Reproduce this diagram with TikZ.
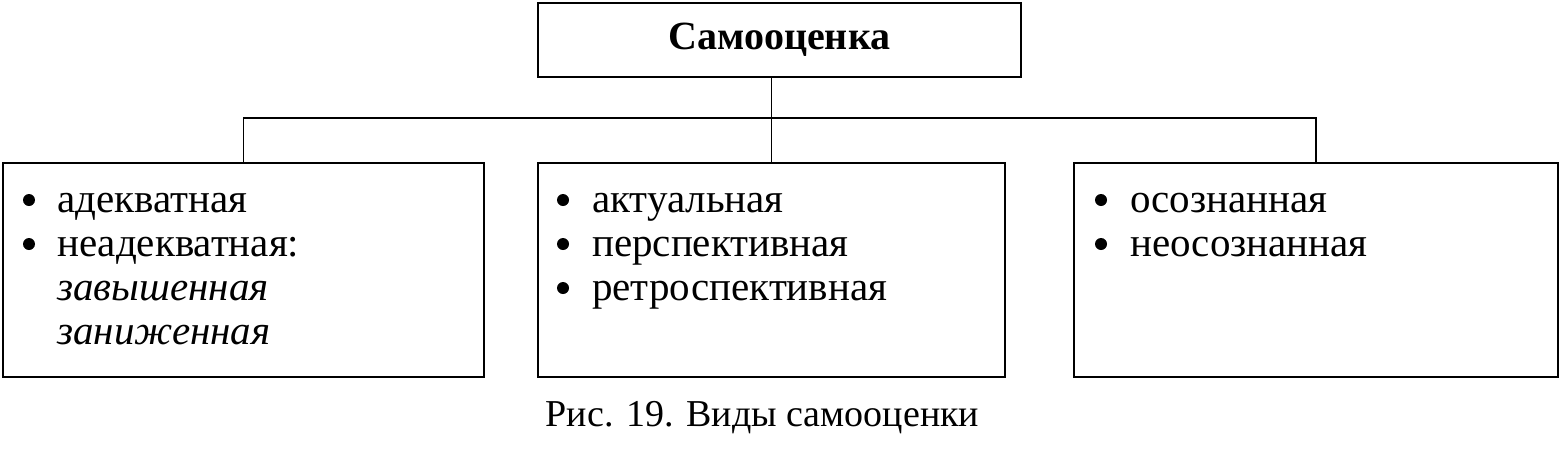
\documentclass[tikz,border=0pt]{standalone}
\usepackage{fontspec}
\setmainfont{Liberation Serif}

\tikzset{
  headbox/.style={draw, line width=2.2pt, minimum width=483pt, minimum height=74pt, inner sep=0pt, font=\fontsize{40}{48}\selectfont\bfseries},
  listbox/.style={draw, line width=2.2pt, minimum height=214pt, inner sep=0pt},
  items/.style={anchor=base west, inner sep=0pt, font=\fontsize{41}{44}\selectfont},
  listdot/.style={fill, radius=6pt},
  link/.style={line width=1.3pt},
  caption/.style={anchor=base, inner sep=0pt, font=\fontsize{38}{44}\selectfont}
}

\begin{document}
\begin{tikzpicture}[x=1pt,y=-1pt]
\useasboundingbox (0,0) rectangle (1560,448);
\node[headbox] (head) at (779.5,40) {Самооценка};
\node[listbox, minimum width=481pt] (adeq) at (243.5,270) {};
\node[listbox, minimum width=467pt] (actual) at (771.5,270) {};
\node[listbox, minimum width=484pt] (aware) at (1316,270) {};
\coordinate (fork) at (771.5,118);
\draw[link] (actual.north |- head.south) -- (fork) -- (actual.north);
\draw[link] (adeq.north) |- (fork) -| (aware.north);
\node[items] (adeqlist) at (57,212) {\begin{tabular}[t]{@{}l@{}}
  адекватная\\
  неадекватная:\\
  \textit{завышенная}\\
  \textit{заниженная}
\end{tabular}};
\node[items] (actuallist) at (592,212) {\begin{tabular}[t]{@{}l@{}}
  актуальная\\
  перспективная\\
  ретроспективная
\end{tabular}};
\node[items] (awarelist) at (1130,212) {\begin{tabular}[t]{@{}l@{}}
  осознанная\\
  неосознанная
\end{tabular}};
\foreach \y in {200,244} \fill[listdot] (29,\y) circle;
\foreach \y in {200,244,288} \fill[listdot] (563,\y) circle;
\foreach \y in {200,244} \fill[listdot] (1101,\y) circle;
\node[caption] (title) at (762.5,426) {Рис. 19. Виды самооценки};
\end{tikzpicture}
\end{document}
